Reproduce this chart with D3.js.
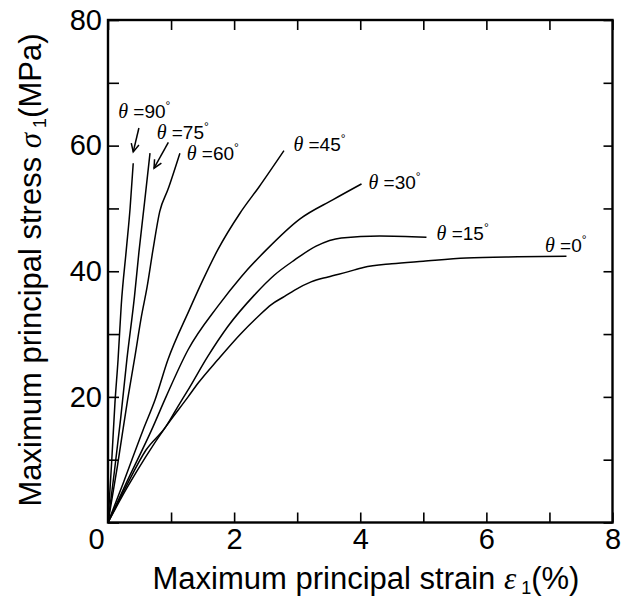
<!DOCTYPE html>
<html>
<head>
<meta charset="utf-8">
<script src="https://cdn.jsdelivr.net/npm/d3@7"></script>
<style>
  html, body { margin: 0; padding: 0; background: #fff; }
  svg { display: block; }
</style>
</head>
<body>
<svg id="chart" width="632" height="603"></svg>
<script>
// ---- data (strain %, stress MPa) ----
const curve90 = [[0,0],[0.06,10],[0.11,19],[0.16,26],[0.21,34.6],[0.29,43.4],[0.35,50],[0.40,57.2]];
const curve75 = [[0,0],[0.1,8],[0.2,16.5],[0.3,26],[0.42,36],[0.49,43],[0.58,51],[0.666,58.8]];
const curve60 = [[0,0],[0.15,9],[0.31,19.5],[0.42,26],[0.53,32.8],[0.62,37.5],[0.713,43.4],[0.82,49.5],[0.95,53],[1.14,58.8]];
const curve45 = [[0,0],[0.25,6.5],[0.555,14.7],[0.745,19.5],[0.95,25.9],[1.29,33.85],[1.5,38.5],[1.74,43.4],[2.09,49.2],[2.4,53.5],[2.79,59.2]];
const curve30 = [[0,0],[0.3,6.5],[0.69,14.7],[0.92,20],[1.27,27.5],[1.74,34.4],[2.11,39.1],[2.51,43.4],[3.04,48.3],[3.57,51.4],[4.02,53.9]];
const curve15 = [[0,0],[0.3,6],[0.6,11.5],[0.92,15.3],[1.11,18.5],[1.27,21.1],[1.58,26.4],[1.90,31.2],[2.32,36.2],[2.64,39.4],[2.96,41.8],[3.3,44.0],[3.7,45.3],[4.31,45.6],[5.05,45.4]];
const curve0 = [[0,0],[0.3,5.5],[0.6,10.5],[0.92,15.3],[1.27,20],[1.43,22.2],[1.74,25.9],[2.11,30.1],[2.38,32.8],[2.59,34.7],[2.80,36.0],[2.96,37.0],[3.22,38.3],[3.49,39.1],[3.80,39.9],[4.05,40.6],[4.5,41.2],[5.0,41.6],[5.68,42.1],[6.5,42.3],[7.27,42.4]];

const xTickValues = [0,1,2,3,4,5,6,7,8];
const xTickLabels = ["0","","2","","4","","6","","8"];
const yTickValues = [0,10,20,30,40,50,60,70,80];
const yTickLabels = ["","","20","","40","","60","","80"];

// angle labels (text, anchor in data units) and arrows
const angleLabels = [
  {angle:"90", x:0.163, y:64.4},
  {angle:"75", x:0.772, y:61.0},
  {angle:"60", x:1.248, y:57.7},
  {angle:"45", x:2.94,  y:59.2},
  {angle:"30", x:4.13,  y:53.06},
  {angle:"15", x:5.21,  y:45.0},
  {angle:"0",  x:6.93,  y:43.1}
];
const arrows = [
  {x1:0.49, y1:62.8, x2:0.40, y2:59.0},
  {x1:0.957, y1:60.5, x2:0.73, y2:56.4}
];

// ---- layout ----
const mL = 108, mR = 612.5, mT = 20, mB = 522.5;
const svg = d3.select("#chart");
const x = d3.scaleLinear().domain([0,8]).range([mL,mR]);
const y = d3.scaleLinear().domain([0,80]).range([mB,mT]);

const sans = "'Liberation Sans', Arial, Helvetica, sans-serif";
const serif = "'Liberation Serif', 'Times New Roman', serif";

// axes
const gB = svg.append("g").attr("transform",`translate(0,${mB})`)
  .call(d3.axisBottom(x).tickValues(xTickValues).tickSize(-10).tickPadding(6)
        .tickFormat((d,i)=>xTickLabels[i]));
const gT = svg.append("g").attr("transform",`translate(0,${mT})`)
  .call(d3.axisTop(x).tickValues(xTickValues).tickSize(-10).tickFormat(""));
const gL = svg.append("g").attr("transform",`translate(${mL},0)`)
  .call(d3.axisLeft(y).tickValues(yTickValues).tickSize(-11).tickPadding(6)
        .tickFormat((d,i)=>yTickLabels[i]));
const gR = svg.append("g").attr("transform",`translate(${mR},0)`)
  .call(d3.axisRight(y).tickValues(yTickValues).tickSize(-9).tickFormat(""));

[gB,gT,gL,gR].forEach(g=>{
  g.select(".domain").remove();
  g.selectAll(".tick line").attr("stroke","#000").attr("stroke-width",1.6);
  g.selectAll(".tick text").attr("font-family",sans).attr("font-size",29).attr("fill","#000");
});
// corner "0" label shifted left
gB.selectAll(".tick text").filter(d=>d===0).attr("dx",-12);

// frame
svg.append("rect").attr("x",mL).attr("y",mT)
  .attr("width",mR-mL).attr("height",mB-mT)
  .attr("fill","none").attr("stroke","#000").attr("stroke-width",2.4);

// curves
const lineGen = d3.line().x(d=>x(d[0])).y(d=>y(d[1])).curve(d3.curveMonotoneX);
[curve90,curve75,curve60,curve45,curve30,curve15,curve0].forEach(c=>{
  svg.append("path").datum(c).attr("d",lineGen)
    .attr("fill","none").attr("stroke","#000").attr("stroke-width",1.5)
    .attr("stroke-linejoin","round");
});

// angle labels
angleLabels.forEach(l=>{
  const t = svg.append("text").attr("x",x(l.x)).attr("y",y(l.y))
    .attr("font-family",sans).attr("font-size",19).attr("fill","#000");
  t.append("tspan").attr("font-family",serif).attr("font-style","italic").attr("font-size",20).text("θ");
  t.append("tspan").text(" =" + l.angle);
  t.append("tspan").attr("font-size",12).attr("dy",-8).text("°");
});

// arrows
arrows.forEach(a=>{
  const x1=x(a.x1), y1=y(a.y1), x2=x(a.x2), y2=y(a.y2);
  svg.append("line").attr("x1",x1).attr("y1",y1).attr("x2",x2).attr("y2",y2)
    .attr("stroke","#000").attr("stroke-width",1.5);
  const ang = Math.atan2(y2-y1,x2-x1), L=9, sp=0.45;
  const p = d3.path();
  p.moveTo(x2 - L*Math.cos(ang-sp), y2 - L*Math.sin(ang-sp));
  p.lineTo(x2,y2);
  p.lineTo(x2 - L*Math.cos(ang+sp), y2 - L*Math.sin(ang+sp));
  svg.append("path").attr("d",p.toString()).attr("fill","none")
    .attr("stroke","#000").attr("stroke-width",1.5);
});

// x-axis title
const xt = svg.append("text").attr("x",366).attr("y",589)
  .attr("text-anchor","middle").attr("font-family",sans).attr("font-size",31).attr("fill","#000");
xt.append("tspan").text("Maximum principal strain  ");
xt.append("tspan").attr("font-family",serif).attr("font-style","italic").text("ε");
xt.append("tspan").attr("font-size",18).attr("dy",5).text(" 1");
xt.append("tspan").attr("dy",-5).text("(%)");

// y-axis title
const yt = svg.append("text").attr("transform",`translate(41,270) rotate(-90)`)
  .attr("text-anchor","middle").attr("font-family",sans).attr("font-size",31).attr("fill","#000");
yt.append("tspan").text("Maximum principal stress  ");
yt.append("tspan").attr("font-family",serif).attr("font-style","italic").text("σ");
yt.append("tspan").attr("font-size",18).attr("dy",5).text(" 1");
yt.append("tspan").attr("dy",-5).text("(MPa)");
</script>
</body>
</html>
